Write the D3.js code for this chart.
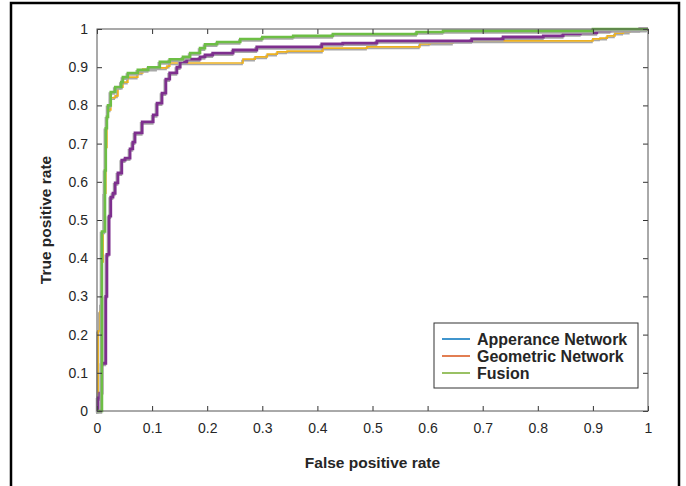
<!DOCTYPE html>
<html>
<head>
<meta charset="utf-8">
<script src="https://cdn.jsdelivr.net/npm/d3@7"></script>
<style>
  body { margin: 0; background: #fff; }
  svg { display: block; }
</style>
</head>
<body>
<svg id="chart" width="686" height="486"></svg>
<script>
// ROC curves (staircase corners: fpr where the rise happens, tpr reached)
const greenFpr = [0, .009, .0145, .016, .018, .02, .025, .033, .044, .047, .056, .074, .093, .114, .132, .156, .169, .187, .196, .218, .26, .30, .356, .428, .58, .628, .90, 1.0];
const greenTpr = [0, .47, .63, .74, .77, .80, .835, .848, .861, .874, .885, .893, .90, .914, .921, .927, .937, .95, .96, .966, .974, .979, .982, .987, .992, .995, 1.0, 1.0];

const yellowFpr = [0, .002, .005, .007, .009, .011, .013, .016, .018, .02, .025, .033, .038, .047, .056, .074, .083, .109, .127, .132, .265, .287, .309, .327, .345, .41, .49, .586, .604, .646, .90, .913, .926, .94, .955, .967, .998, 1];
const yellowTpr = [0, .21, .26, .28, .39, .47, .57, .69, .77, .788, .82, .825, .848, .861, .874, .885, .895, .898, .903, .911, .921, .927, .934, .94, .942, .95, .953, .961, .963, .969, .974, .976, .982, .989, .992, .997, 1, 1];

const purpleFpr = [0, .002, .005, .009, .016, .018, .022, .025, .029, .033, .038, .045, .051, .06, .065, .069, .082, .102, .109, .118, .125, .132, .145, .151, .163, .187, .196, .21, .247, .29, .408, .446, .508, .68, .737, .81, .846, .877, .907, .931, .985, 1];
const purpleTpr = [0, .034, .047, .125, .30, .41, .51, .56, .57, .597, .623, .657, .662, .686, .704, .728, .757, .775, .806, .832, .869, .885, .90, .914, .921, .927, .932, .937, .945, .953, .961, .963, .969, .974, .979, .982, .987, .99, .995, .998, 1, 1];

const legendNames = ["Apperance Network", "Geometric Network", "Fusion"];
const legendColors = ["#0072BD", "#D95319", "#77AC30"];
const tickValues = [0, 0.1, 0.2, 0.3, 0.4, 0.5, 0.6, 0.7, 0.8, 0.9, 1];

const svg = d3.select("#chart");
const m = { left: 97, right: 648, top: 29, bottom: 411 };
const font = "'Liberation Sans', Arial, Helvetica, sans-serif";
const textCol = "#262626";

// outer frame of the figure
svg.append("rect")
  .attr("x", 11).attr("y", 3)
  .attr("width", 668).attr("height", 500)
  .attr("fill", "none")
  .attr("stroke", "#000")
  .attr("stroke-width", 2.5);

const x = d3.scaleLinear().domain([0, 1]).range([m.left, m.right]);
const y = d3.scaleLinear().domain([0, 1]).range([m.bottom, m.top]);

const plot = svg.append("g");

// axes (ticks inside, box all round)
const fmt = d => d === 0 ? "0" : d === 1 ? "1" : d3.format(".1f")(d);
const axisStyle = (g, hideText) => {
  g.select(".domain").remove();
  g.selectAll(".tick line").attr("stroke", "#333").attr("stroke-width", 1);
  g.selectAll(".tick text")
    .style("font-family", font)
    .style("font-size", "14px")
    .attr("fill", textCol);
  if (hideText) g.selectAll(".tick text").remove();
};

svg.append("g")
  .attr("transform", `translate(0,${m.bottom})`)
  .call(d3.axisBottom(x).tickValues(tickValues).tickSizeInner(-5).tickSizeOuter(0).tickPadding(12).tickFormat(fmt))
  .call(g => axisStyle(g, false));
svg.append("g")
  .attr("transform", `translate(0,${m.top})`)
  .call(d3.axisTop(x).tickValues(tickValues).tickSizeInner(-5).tickSizeOuter(0))
  .call(g => axisStyle(g, true));
svg.append("g")
  .attr("transform", `translate(${m.left},0)`)
  .call(d3.axisLeft(y).tickValues(tickValues).tickSizeInner(-5).tickSizeOuter(0).tickPadding(9).tickFormat(fmt))
  .call(g => axisStyle(g, false));
svg.append("g")
  .attr("transform", `translate(${m.right},0)`)
  .call(d3.axisRight(y).tickValues(tickValues).tickSizeInner(-5).tickSizeOuter(0))
  .call(g => axisStyle(g, true));

// curves
const line = d3.line()
  .x(d => x(d[0]))
  .y(d => y(d[1]))
  .curve(d3.curveStepAfter);

const series = [
  { fpr: yellowFpr, tpr: yellowTpr, color: "#EDB120", width: 1.7 },
  { fpr: purpleFpr, tpr: purpleTpr, color: "#7E2F8E", width: 2.8 },
  { fpr: greenFpr, tpr: greenTpr, color: "#6DBE45", width: 2.6 },
];

series.forEach(s => {
  const pts = s.fpr.map((f, i) => [f, s.tpr[i]]);
  // faint grey shadow under each curve, as in the picture
  plot.append("path")
    .datum(pts)
    .attr("d", line)
    .attr("transform", "translate(-1,1.5)")
    .attr("fill", "none")
    .attr("stroke", "#a8a8a8")
    .attr("stroke-width", s.width);
  plot.append("path")
    .datum(pts)
    .attr("d", line)
    .attr("fill", "none")
    .attr("stroke", s.color)
    .attr("stroke-width", s.width);
});

// box lines on top of curves
svg.append("rect")
  .attr("x", m.left).attr("y", m.top)
  .attr("width", m.right - m.left).attr("height", m.bottom - m.top)
  .attr("fill", "none")
  .attr("stroke", "#555")
  .attr("stroke-width", 1);

// axis titles
svg.append("text")
  .attr("x", (m.left + m.right) / 2).attr("y", 468)
  .attr("text-anchor", "middle")
  .style("font-family", font).style("font-size", "15.5px").style("font-weight", "bold")
  .attr("fill", textCol)
  .text("False positive rate");
svg.append("text")
  .attr("transform", `translate(51,${(m.top + m.bottom) / 2}) rotate(-90)`)
  .attr("text-anchor", "middle")
  .style("font-family", font).style("font-size", "15.5px").style("font-weight", "bold")
  .attr("fill", textCol)
  .text("True positive rate");

// legend
const lg = svg.append("g");
lg.append("rect")
  .attr("x", 434).attr("y", 323)
  .attr("width", 204).attr("height", 65)
  .attr("fill", "#fff")
  .attr("stroke", "#333")
  .attr("stroke-width", 1);
legendNames.forEach((name, i) => {
  const ly = 339 + i * 17;
  lg.append("line")
    .attr("x1", 442).attr("x2", 470)
    .attr("y1", ly).attr("y2", ly)
    .attr("stroke", legendColors[i])
    .attr("stroke-width", 1.5);
  lg.append("text")
    .attr("x", 477).attr("y", ly)
    .attr("dy", "0.36em")
    .style("font-family", font).style("font-size", "16px").style("font-weight", "bold")
    .attr("fill", textCol)
    .text(name);
});
</script>
</body>
</html>
